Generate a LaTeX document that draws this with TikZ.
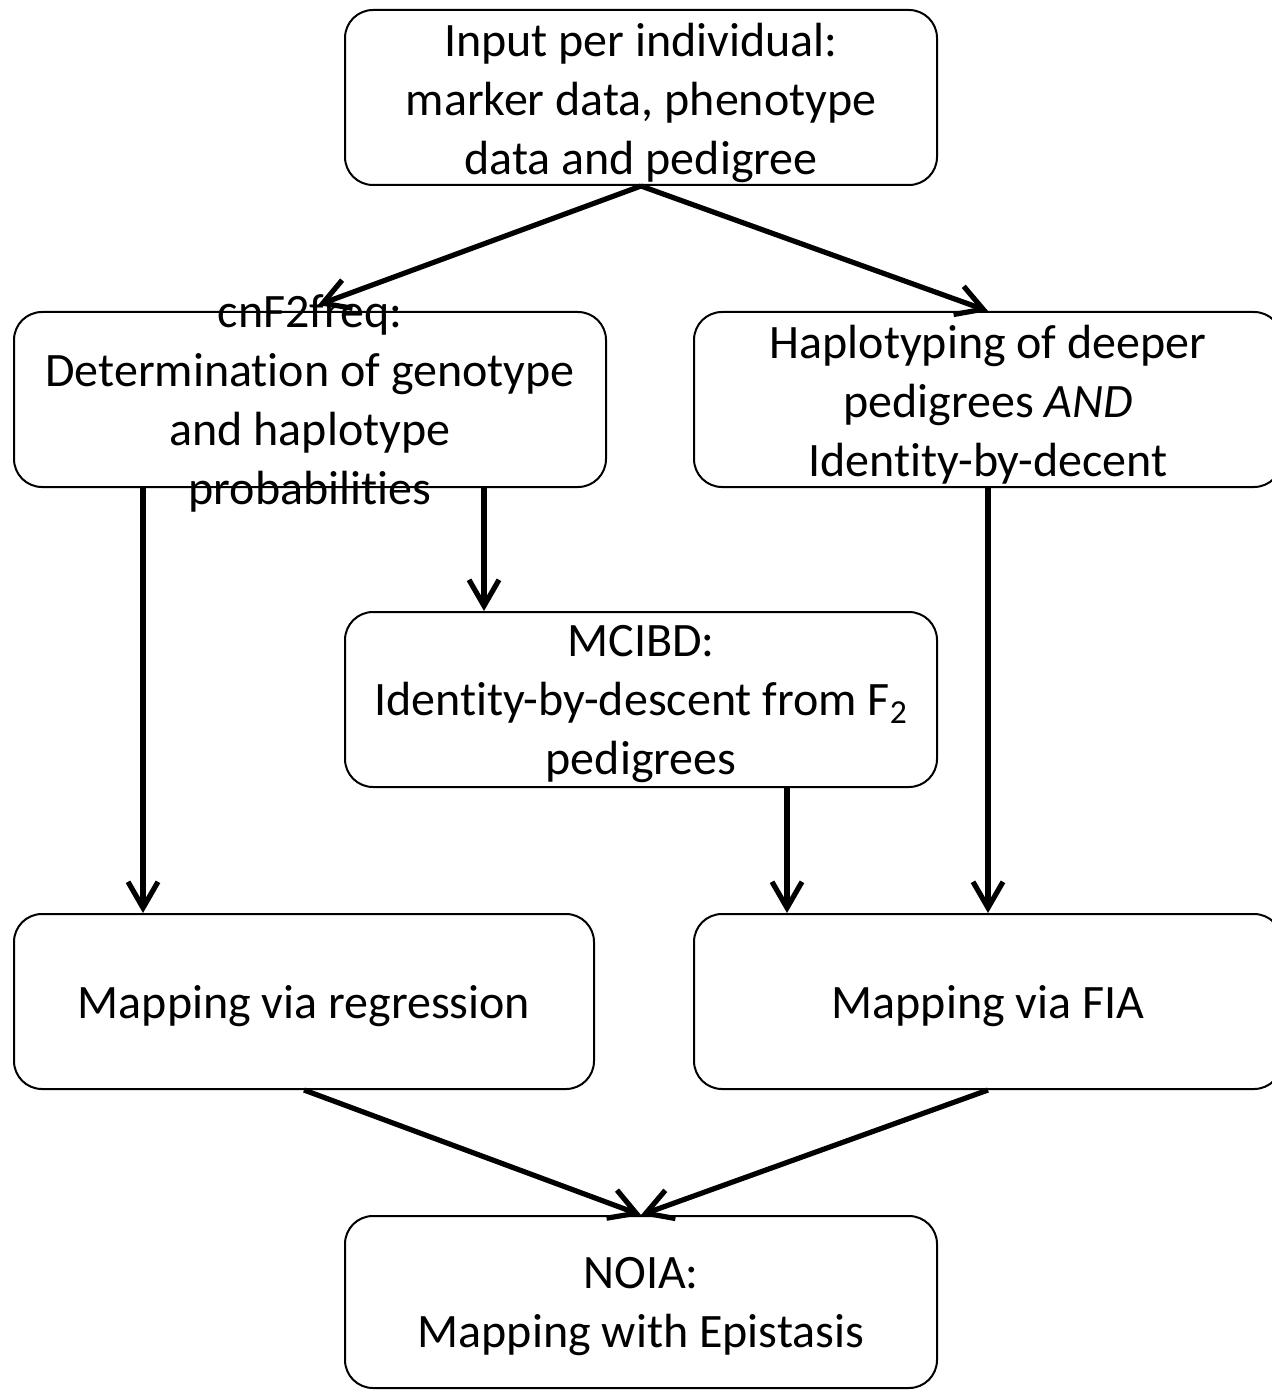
\documentclass[tikz,border=0pt]{standalone}
\usepackage{fontspec}
\setmainfont{Carlito}[Ligatures=NoCommon]
\usetikzlibrary{arrows.meta}

\tikzset{
    box/.style={draw, line width=1pt, rounded corners=14pt, minimum width=296pt,
        minimum height=87.5pt, inner sep=0pt},
    boxtext/.style={align=center, inner sep=0pt, font=\fontsize{24}{29.5}\selectfont},
    flow/.style={-{Straight Barb[length=13pt,width=15pt]}, line width=2.6pt},
}

\begin{document}
\begin{tikzpicture}[x=0.5pt, y=-0.5pt]

    \useasboundingbox (0,0) rectangle (1272,1390);

    % boxes
    \node[box] (input) at (641,97.5) {};
    \node[box] (cnf) at (310,399.5) {};
    \node[box, minimum width=294pt] (hap) at (988,399.5) {};
    \node[box] (mcibd) at (641,699.5) {};
    \node[box, minimum width=290pt] (regr) at (304,1001.5) {};
    \node[box, minimum width=294pt] (fia) at (988,1001.5) {};
    \node[box, minimum height=86pt] (noia) at (641,1302) {};

    % texts
    \node[boxtext] (inputtext) at ([yshift=-2.5pt]input.center)
        {Input per individual:\\ marker data, phenotype\\ data and pedigree};
    \node[boxtext] (cnftext) at ([yshift=-2pt]cnf.center)
        {cnF2freq:\\ Determination of genotype\\ and haplotype\\ probabilities};
    \node[boxtext] (haptext) at ([yshift=-2.5pt]hap.center)
        {Haplotyping of deeper\\ pedigrees \textit{AND}\\ Identity-by-decent};
    \node[boxtext] (mcibdtext) at ([yshift=-2.5pt]mcibd.center)
        {MCIBD:\\ Identity-by-descent from F\textsubscript{2}\\ pedigrees};
    \node[boxtext] (regrtext) at ([yshift=-2.5pt]regr.center) {Mapping via regression};
    \node[boxtext] (fiatext) at ([yshift=-2.5pt]fia.center) {Mapping via FIA};
    \node[boxtext] (noiatext) at ([yshift=-2.5pt]noia.center)
        {NOIA:\\ Mapping with Epistasis};

    % split after the input
    \draw[flow] (input.south) -- ([shift={(4pt,3pt)}]cnf.north);
    \draw[flow] (input.south) -- (hap.north);

    % down to the mapping boxes
    \coordinate (cnfleft) at ([xshift=-83.5pt]cnf.south);
    \coordinate (cnfright) at ([xshift=87pt]cnf.south);
    \coordinate (mcibdout) at ([xshift=73pt]mcibd.south);
    \draw[flow] (cnfleft) -- (cnfleft |- regr.north);
    \draw[flow] (cnfright) -- (cnfright |- mcibd.north);
    \draw[flow] (mcibdout) -- (mcibdout |- fia.north);
    \draw[flow] (hap.south) -- (fia.north);

    % join in NOIA
    \draw[flow] (regr.south) -- (noia.north);
    \draw[flow] (fia.south) -- (noia.north);

\end{tikzpicture}
\end{document}
